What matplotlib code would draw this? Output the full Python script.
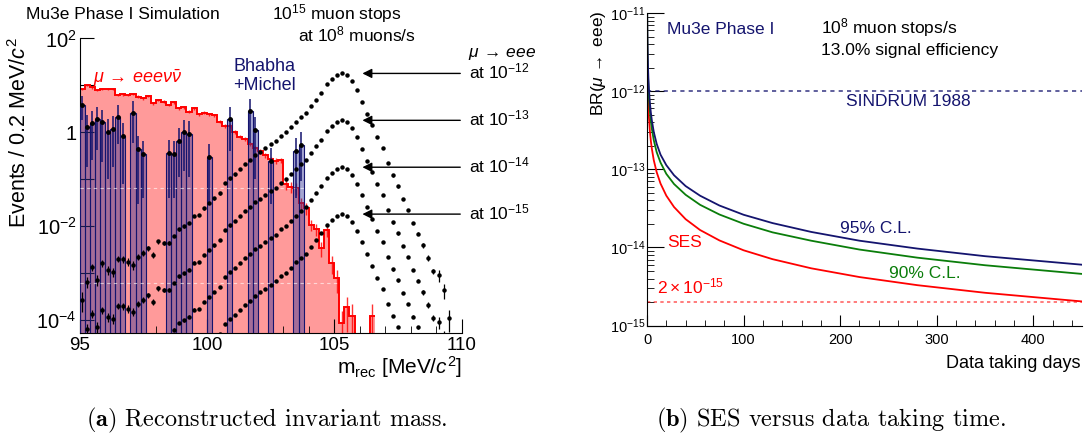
import numpy as np
import matplotlib
matplotlib.use("Agg")
import matplotlib.pyplot as plt
from matplotlib.ticker import FixedLocator, FuncFormatter, MultipleLocator, LogLocator, NullFormatter

plt.rcParams['font.family'] = ['Liberation Sans', 'DejaVu Sans']
plt.rcParams['mathtext.fontset'] = 'custom'
plt.rcParams['mathtext.rm'] = 'Liberation Sans'
plt.rcParams['mathtext.it'] = 'Liberation Sans:italic'
plt.rcParams['mathtext.bf'] = 'Liberation Sans:bold'

# ---------------- (a) reconstructed mass, 0.2 MeV bins from 95 MeV ----------------
bin_start = 95.0
bin_width = 0.2

# mu -> e e e nu nubar
rad_counts = [8.3, 10.2, 9.1, 8.0, 8.4, 8.3, 8.3, 6.2, 6.45, 6.2,
              6.6, 5.75, 5.3, 6.0, 4.15, 4.9, 4.5, 3.8, 4.4, 3.25,
              3.4, 2.75, 3.25, 2.45, 2.6, 2.4, 2.34, 1.68, 1.36, 1.37,
              1.03, 0.81, 0.72, 0.56, 0.46, 0.39, 0.33, 0.265, 0.25, 0.255,
              0.079, 0.069, 0.064, 0.031, 0.024, 0.0107, 0.0085, 0.0034, 0.0083, 0.00165,
              0.00077, 0.000087, 0.000185, 0.00012, 0, 0, 0, 0.00012]
rad_errors = [0.5, 0.6, 0.55, 0.5, 0.5, 0.5, 0.5, 0.4, 0.4, 0.4,
              0.4, 0.35, 0.35, 0.35, 0.3, 0.3, 0.3, 0.25, 0.3, 0.22,
              0.22, 0.2, 0.22, 0.18, 0.18, 0.17, 0.17, 0.13, 0.11, 0.11,
              0.09, 0.07, 0.07, 0.06, 0.05, 0.045, 0.04, 0.035, 0.035, 0.035,
              0.02, 0.018, 0.017, 0.009, 0.007, 0.003, 0.0025, 0.0012, 0.0025, 0.0007,
              0.0004, 0.00007, 0.00013, 0.0001, 0, 0, 0, 0.0001]

# Bhabha + Michel
bhabha_counts = [3.8, 1.28, 1.56, 1.92, 1.63, 1.0, 1.18, 2.15, 0.83, 0,
                 2.6, 0.43, 0.34, 0, 0, 0, 0, 0.37, 0.34, 0.66,
                 1.0, 0.91, 0, 0, 0, 0.3, 0, 0, 0, 1.9,
                 0, 0, 0, 2.9, 1.1, 0, 0, 0.25, 0, 0,
                 0, 0, 0.39, 0.54]
bhabha_errors = [2.0, 1.1, 1.3, 1.5, 1.4, 0.9, 1.0, 1.6, 0.75, 0,
                 2.0, 0.4, 0.3, 0, 0, 0, 0, 0.33, 0.3, 0.55,
                 0.85, 0.8, 0, 0, 0, 0.27, 0, 0, 0, 1.5,
                 0, 0, 0, 2.3, 1.0, 0, 0, 0.22, 0, 0,
                 0, 0, 0.35, 0.45]

# mu -> eee signal at BR = 1e-12
signal_counts = [2.7e-4, 6.5e-4, 1.35e-3, 7.1e-4, 1.6e-3, 1.15e-3, 1.07e-3, 2.0e-3, 1.96e-3, 1.74e-3,
                 1.48e-3, 2.2e-3, 2.7e-3, 3.4e-3, 2.4e-3, 4.7e-3, 4.3e-3, 4.3e-3, 6.2e-3, 8.5e-3,
                 9.8e-3, 0.0118, 0.0166, 0.0173, 0.024, 0.031, 0.039, 0.05, 0.082, 0.104,
                 0.127, 0.162, 0.21, 0.256, 0.33, 0.385, 0.46, 0.56, 0.66, 0.85,
                 1.0, 1.28, 1.68, 2.09, 2.6, 3.6, 5.0, 7.0, 10.5, 13.5,
                 16.5, 18.0, 16.5, 12.5, 8.0, 4.5, 2.5, 1.4, 0.8, 0.46,
                 0.22, 0.12, 0.07, 0.038, 0.022, 0.0117, 6.9e-3, 3.9e-3, 2.1e-3, 1.1e-3,
                 9e-4, 4.3e-4, 1.1e-4]
signal_rel_err = [0.45, 0.25, 0.18, 0.25, 0.18, 0.2, 0.22, 0.16, 0.16, 0.18,
                  0.2, 0.15, 0.14, 0.12, 0.15, 0.1, 0.1, 0.1, 0.06, 0.06,
                  0.06, 0.06, 0.06, 0.06, 0.06, 0.06, 0.06, 0.06, 0.06, 0.06,
                  0.06, 0.04, 0.04, 0.04, 0.04, 0.04, 0.04, 0.04, 0.04, 0.04,
                  0.04, 0.04, 0.04, 0.04, 0.04, 0.02, 0.02, 0.02, 0.02, 0.02,
                  0.02, 0.02, 0.02, 0.02, 0.02, 0.02, 0.02, 0.02, 0.02, 0.02,
                  0.02, 0.06, 0.06, 0.06, 0.06, 0.06, 0.06, 0.13, 0.13, 0.13,
                  0.28, 0.35, 0.5]
signal_br = [1e-12, 1e-13, 1e-14, 1e-15]
signal_labels = ['at $10^{-12}$', 'at $10^{-13}$', 'at $10^{-14}$', 'at $10^{-15}$']

# ---------------- (b) SES versus data taking time ----------------
days = [0.1, 0.15, 0.2, 0.3, 0.5, 0.75, 1, 1.5, 2, 3, 4, 5, 7, 10, 14, 20, 28,
        40, 55, 75, 100, 130, 170, 220, 280, 350, 450]
ses = [9.2e-12, 6.13e-12, 4.6e-12, 3.07e-12, 1.84e-12, 1.23e-12, 9.2e-13, 6.13e-13, 4.6e-13,
       3.07e-13, 2.3e-13, 1.84e-13, 1.31e-13, 9.2e-14, 6.57e-14, 4.6e-14, 3.29e-14, 2.3e-14,
       1.67e-14, 1.23e-14, 9.2e-15, 7.08e-15, 5.41e-15, 4.18e-15, 3.29e-15, 2.63e-15, 2.04e-15]
limit_90 = [1.66e-11, 1.10e-11, 8.28e-12, 5.53e-12, 3.31e-12, 2.21e-12, 1.66e-12, 1.10e-12, 8.28e-13,
            5.53e-13, 4.14e-13, 3.31e-13, 2.36e-13, 1.66e-13, 1.22e-13, 8.74e-14, 6.48e-14, 4.72e-14,
            3.51e-14, 2.64e-14, 2.01e-14, 1.56e-14, 1.22e-14, 9.4e-15, 7.4e-15, 5.92e-15, 4.59e-15]
limit_95 = [2.12e-11, 1.41e-11, 1.06e-11, 7.06e-12, 4.23e-12, 2.83e-12, 2.12e-12, 1.41e-12, 1.06e-12,
            7.06e-13, 5.29e-13, 4.23e-13, 3.01e-13, 2.12e-13, 1.54e-13, 1.13e-13, 8.39e-14, 6.1e-14,
            4.59e-14, 3.44e-14, 2.62e-14, 2.05e-14, 1.58e-14, 1.22e-14, 9.67e-15, 7.73e-15, 6.02e-15]
sindrum_limit = 1e-12
ses_target = 2e-15

NAVY = '#14146e'
GREEN = '#0a7d0a'
RED = '#ff0000'
W, H = 1085, 436


def fx(px):
    return px / W


def fy(py):
    return 1 - py / H


fig = plt.figure(figsize=(W / 100, H / 100), dpi=100)
ax1 = fig.add_axes([fx(79.5), fy(333.2), (461.5 - 79.5) / W, (333.2 - 38.5) / H])
ax2 = fig.add_axes([fx(647), fy(325.6), (1081.6 - 647) / W, (325.6 - 13) / H])

# ---- panel (a) ----
rad = np.array(rad_counts)
edges = bin_start + bin_width * np.arange(len(rad) + 1)
centers = edges[:-1] + bin_width / 2
rad_plot = np.where(rad > 0, rad, 1e-9)
ax1.stairs(rad_plot, edges, fill=True, baseline=1e-9, color='#ff9a9a', lw=0, zorder=1)
ax1.stairs(rad_plot, edges, baseline=None, color=RED, lw=1.4, zorder=2)
ok = rad > 0
ax1.errorbar(centers[ok], rad[ok], yerr=np.array(rad_errors)[ok], fmt='none',
             ecolor=RED, elinewidth=1.0, alpha=0.8, zorder=2)

bh = np.array(bhabha_counts)
bh_edges = bin_start + bin_width * np.arange(len(bh))
bh_centers = bh_edges + bin_width / 2
ok = bh > 0
ax1.bar(bh_edges[ok], bh[ok], width=bin_width, align='edge', bottom=1e-9,
        color=(0.22, 0.22, 0.6, 0.45), edgecolor=NAVY, lw=0.8, zorder=3)

for yl in [0.065, 6.2e-4]:
    ax1.axhline(yl, color='white', lw=0.8, ls=(0, (3, 3)), alpha=0.6, zorder=3.5)

ax1.errorbar(bh_centers[ok], bh[ok], yerr=np.array(bhabha_errors)[ok], fmt='o', ms=2.5,
             mfc='black', mec='black', ecolor=NAVY, elinewidth=1.1, zorder=4)

sig = np.array(signal_counts)
sig_centers = bin_start + bin_width * np.arange(len(sig)) + bin_width / 2
for br, lab in zip(signal_br, signal_labels):
    vals = sig * br / signal_br[0]
    ax1.errorbar(sig_centers, vals, yerr=vals * np.array(signal_rel_err), fmt='o', ms=2.2,
                 color='black', elinewidth=0.9, zorder=5)
    peak = vals.max()
    ax1.annotate('', xy=(106.0, peak), xytext=(110.06, peak),
                 arrowprops=dict(arrowstyle='-|>', color='black', lw=1, mutation_scale=14),
                 annotation_clip=False)
    ax1.annotate(lab, xy=(1, peak), xycoords=('axes fraction', 'data'),
                 xytext=(5.4, -3.8), textcoords='offset points', va='baseline',
                 ha='left', fontsize=12.5, annotation_clip=False)

ax1.set_xlim(95, 110)
ax1.set_yscale('log')
ax1.set_ylim(5.2e-5, 100)
ax1.yaxis.set_major_locator(FixedLocator([10.0 ** e for e in range(-4, 3)]))
ax1.yaxis.set_minor_locator(FixedLocator([]))


def left_fmt(v, pos):
    e = int(round(np.log10(v)))
    if e % 2:
        return ''
    if e == 0:
        return '1'
    return r'$10^{%d}$' % e


ax1.yaxis.set_major_formatter(FuncFormatter(left_fmt))
ax1.xaxis.set_major_locator(MultipleLocator(5))
ax1.xaxis.set_minor_locator(MultipleLocator(1))
ax1.tick_params(axis='x', which='major', direction='in', length=10, labelsize=13.5, pad=2.5)
ax1.tick_params(axis='x', which='minor', direction='in', length=5)
ax1.tick_params(axis='y', which='major', direction='in', length=10, labelsize=14.5, pad=2)

for ax in (ax1, ax2):
    ax.spines['top'].set_visible(False)
    ax.spines['right'].set_visible(False)
    ax.patch.set_alpha(0)

fig.text(fx(20), fy(37), 'Events / 0.2 MeV/$c^{2}$', rotation=90, ha='center', va='top', fontsize=15.5)
fig.text(fx(461.7), fy(373.5), r'm$_{\mathrm{rec}}$ [MeV/$c^{2}$]', ha='right', va='baseline', fontsize=15)
fig.text(fx(25.8), fy(19), 'Mu3e Phase I Simulation', ha='left', va='baseline', fontsize=12.5)
fig.text(fx(272), fy(19), '$10^{15}$ muon stops', ha='left', va='baseline', fontsize=12.5)
fig.text(fx(298), fy(41.3), 'at $10^{8}$ muons/s', ha='left', va='baseline', fontsize=12.5)
fig.text(fx(468), fy(56.8), r'$\mu\, \rightarrow\, eee$', ha='left', va='baseline', fontsize=12.5)
fig.text(fx(93), fy(82.6), r'$\mu\, \rightarrow\, eee\nu\bar{\nu}$', ha='left', va='baseline',
         fontsize=13, color=RED)
fig.text(fx(233.5), fy(70.6), 'Bhabha', ha='left', va='baseline', fontsize=13, color=NAVY)
fig.text(fx(233.5), fy(90.2), '+Michel', ha='left', va='baseline', fontsize=13, color=NAVY)

# ---- panel (b) ----
ax2.plot(days, ses, color=RED, lw=1.3)
ax2.plot(days, limit_90, color=GREEN, lw=1.3)
ax2.plot(days, limit_95, color=NAVY, lw=1.3)
ax2.axhline(sindrum_limit, color=NAVY, lw=1.2, ls=(0, (2.5, 2.5)), alpha=0.8)
ax2.axhline(ses_target, color=RED, lw=1.2, ls=(0, (2, 2)), alpha=0.6)
ax2.set_xlim(0, 450)
ax2.set_yscale('log')
ax2.set_ylim(1e-15, 1e-11)
ax2.yaxis.set_major_locator(LogLocator(base=10, numticks=20))
ax2.yaxis.set_minor_locator(LogLocator(base=10, subs=np.arange(2, 10), numticks=20))
ax2.yaxis.set_minor_formatter(NullFormatter())
ax2.xaxis.set_major_locator(MultipleLocator(100))
ax2.xaxis.set_minor_locator(MultipleLocator(20))
ax2.tick_params(axis='both', which='major', direction='in', labelsize=10.5)
ax2.tick_params(axis='y', which='major', length=12, pad=1)
ax2.tick_params(axis='y', which='minor', direction='in', length=5)
ax2.tick_params(axis='x', which='major', length=8, pad=5)
ax2.tick_params(axis='x', which='minor', direction='in', length=4)

fig.text(fx(598.5), fy(10), r'BR($\mu\, \rightarrow$ eee)', rotation=90, ha='center', va='top', fontsize=12.5)
fig.text(fx(1080), fy(367.5), 'Data taking days', ha='right', va='baseline', fontsize=13)
fig.text(fx(667), fy(33.5), 'Mu3e Phase I', ha='left', va='baseline', fontsize=12.5, color=NAVY)
fig.text(fx(821), fy(33.5), '$10^{8}$ muon stops/s', ha='left', va='baseline', fontsize=12.5)
fig.text(fx(821), fy(55.2), '13.0% signal efficiency', ha='left', va='baseline', fontsize=12.5)
fig.text(fx(846), fy(106.5), 'SINDRUM 1988', ha='left', va='baseline', fontsize=12.5, color=NAVY)
fig.text(fx(840.5), fy(232.9), '95% C.L.', ha='left', va='baseline', fontsize=12.5, color=NAVY)
fig.text(fx(889), fy(277.8), '90% C.L.', ha='left', va='baseline', fontsize=12.5, color=GREEN)
fig.text(fx(667), fy(247), 'SES', ha='left', va='baseline', fontsize=12.5, color=RED)
fig.text(fx(657), fy(293), r'$2\times10^{-15}$', ha='left', va='baseline', fontsize=12.5, color=RED)

# captions
fig.text(fx(267), fy(426.7), r'$\mathbf{(a)}$ Reconstructed invariant mass.', ha='center',
         va='baseline', fontsize=17.5, family='cmr10', math_fontfamily='cm')
fig.text(fx(830.5), fy(426.7), r'$\mathbf{(b)}$ SES versus data taking time.', ha='center',
         va='baseline', fontsize=17.5, family='cmr10', math_fontfamily='cm')

fig.savefig('out.png', dpi=100)
